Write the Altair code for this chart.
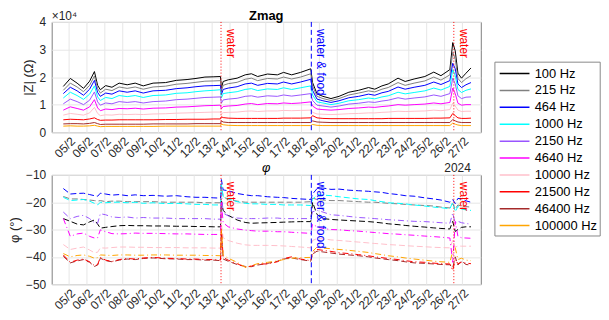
import altair as alt
import pandas as pd

# time of each sample, as fractional day of February 2024
t_day = [4.68, 5.07, 5.45, 5.81, 6.15, 6.42, 6.60, 6.75, 7.05, 7.40,
         7.80, 8.25, 8.70, 9.15, 9.70, 10.40, 11.00, 11.60, 12.10, 12.60,
         13.10, 13.47, 13.52, 13.62, 13.90, 14.40, 14.85, 15.20, 15.55, 16.10,
         16.65, 17.00, 17.45, 17.95, 18.52, 18.62, 18.87, 19.20, 19.65, 20.10,
         20.65, 21.20, 21.75, 22.10, 22.50, 22.85, 23.40, 23.80, 24.30, 24.90,
         25.40, 25.80, 26.30, 26.46, 26.60, 26.75, 26.95, 27.20, 27.48]

freq_labels = ["100 Hz", "215 Hz", "464 Hz", "1000 Hz", "2150 Hz", "4640 Hz",
               "10000 Hz", "21500 Hz", "46400 Hz", "100000 Hz"]
freq_colors = ["#000000", "#808080", "#0000ff", "#00ffff", "#9955ff", "#ff00ff",
               "#ffc0cb", "#ff0000", "#a52a2a", "#ffa500"]
# phase line style of each frequency: dashed or dash-dot
dashdot_freqs = ["2150 Hz", "4640 Hz", "21500 Hz", "100000 Hz"]
dashed_freqs = ["100 Hz", "215 Hz", "464 Hz", "1000 Hz", "10000 Hz", "46400 Hz"]

# |Z| in units of 1e4 ohm
zmag_100 = [1.66, 1.95, 1.78, 1.59, 1.85, 2.20, 1.70, 1.54, 1.69, 1.63,
            1.78, 1.72, 1.78, 1.68, 1.78, 1.80, 1.88, 1.91, 1.95, 2.00,
            2.01, 2.02, 1.60, 1.84, 1.90, 1.96, 2.08, 2.12, 2.02, 2.11,
            2.08, 2.17, 2.08, 2.17, 2.30, 1.80, 1.39, 1.30, 1.22, 1.30,
            1.45, 1.52, 1.62, 1.56, 1.68, 1.75, 1.96, 1.84, 1.93, 2.02,
            2.18, 2.05, 2.27, 3.25, 2.95, 2.14, 1.96, 2.14, 2.33]
zmag_215 = [1.52, 1.78, 1.64, 1.47, 1.70, 2.04, 1.58, 1.42, 1.56, 1.51,
            1.64, 1.59, 1.64, 1.56, 1.64, 1.67, 1.74, 1.77, 1.81, 1.85,
            1.86, 1.87, 1.48, 1.70, 1.76, 1.81, 1.92, 1.96, 1.87, 1.95,
            1.93, 2.00, 1.93, 2.00, 2.12, 1.68, 1.30, 1.22, 1.15, 1.22,
            1.35, 1.42, 1.50, 1.46, 1.56, 1.62, 1.80, 1.70, 1.78, 1.86,
            2.00, 1.89, 2.08, 2.90, 2.65, 1.95, 1.80, 1.94, 2.05]
zmag_464 = [1.40, 1.63, 1.50, 1.34, 1.56, 1.88, 1.44, 1.30, 1.42, 1.38,
            1.50, 1.45, 1.50, 1.42, 1.50, 1.52, 1.58, 1.61, 1.65, 1.68,
            1.69, 1.70, 1.36, 1.55, 1.60, 1.65, 1.75, 1.78, 1.70, 1.77,
            1.75, 1.82, 1.75, 1.82, 1.92, 1.52, 1.20, 1.14, 1.08, 1.14,
            1.25, 1.30, 1.38, 1.34, 1.43, 1.48, 1.64, 1.56, 1.63, 1.70,
            1.82, 1.73, 1.87, 2.50, 2.30, 1.75, 1.62, 1.72, 1.80]
zmag_1000 = [1.24, 1.45, 1.33, 1.19, 1.38, 1.68, 1.28, 1.15, 1.26, 1.22,
             1.33, 1.29, 1.33, 1.26, 1.33, 1.35, 1.41, 1.43, 1.47, 1.50,
             1.52, 1.54, 1.24, 1.40, 1.43, 1.47, 1.55, 1.58, 1.51, 1.57,
             1.55, 1.61, 1.55, 1.61, 1.68, 1.35, 1.10, 1.06, 1.00, 1.05,
             1.14, 1.18, 1.24, 1.21, 1.28, 1.32, 1.45, 1.39, 1.44, 1.50,
             1.60, 1.53, 1.66, 2.27, 2.05, 1.55, 1.44, 1.52, 1.57]
zmag_2150 = [1.03, 1.20, 1.11, 1.00, 1.16, 1.46, 1.10, 0.98, 1.06, 1.03,
             1.11, 1.08, 1.11, 1.06, 1.11, 1.13, 1.18, 1.20, 1.23, 1.26,
             1.27, 1.28, 1.05, 1.17, 1.20, 1.23, 1.30, 1.32, 1.27, 1.32,
             1.30, 1.35, 1.31, 1.35, 1.40, 1.15, 0.98, 0.95, 0.91, 0.95,
             1.02, 1.05, 1.10, 1.08, 1.13, 1.16, 1.25, 1.20, 1.24, 1.28,
             1.35, 1.30, 1.40, 1.96, 1.75, 1.32, 1.22, 1.27, 1.28]
zmag_4640 = [0.80, 0.92, 0.86, 0.80, 0.92, 1.18, 0.88, 0.78, 0.84, 0.82,
             0.86, 0.85, 0.87, 0.84, 0.87, 0.88, 0.91, 0.92, 0.94, 0.96,
             0.97, 0.98, 0.85, 0.93, 0.95, 0.97, 1.02, 1.04, 1.00, 1.04,
             1.03, 1.06, 1.04, 1.06, 1.10, 0.95, 0.84, 0.82, 0.80, 0.82,
             0.86, 0.88, 0.91, 0.90, 0.93, 0.95, 1.00, 0.98, 1.00, 1.02,
             1.06, 1.03, 1.08, 1.60, 1.40, 1.05, 0.98, 1.00, 1.00]
zmag_10000 = [0.62, 0.68, 0.65, 0.62, 0.70, 0.90, 0.68, 0.60, 0.63, 0.62,
              0.65, 0.64, 0.65, 0.64, 0.66, 0.67, 0.69, 0.70, 0.71, 0.72,
              0.73, 0.73, 0.66, 0.71, 0.72, 0.73, 0.76, 0.77, 0.75, 0.77,
              0.77, 0.79, 0.78, 0.79, 0.80, 0.72, 0.66, 0.65, 0.64, 0.65,
              0.67, 0.68, 0.70, 0.70, 0.72, 0.73, 0.76, 0.75, 0.76, 0.77,
              0.80, 0.78, 0.82, 1.06, 0.95, 0.80, 0.75, 0.76, 0.76]
zmag_21500 = [0.45, 0.47, 0.46, 0.45, 0.48, 0.52, 0.46, 0.43, 0.44, 0.44,
              0.45, 0.45, 0.45, 0.45, 0.45, 0.46, 0.46, 0.47, 0.47, 0.47,
              0.48, 0.48, 0.56, 0.53, 0.51, 0.50, 0.50, 0.50, 0.50, 0.50,
              0.50, 0.51, 0.51, 0.51, 0.52, 0.60, 0.52, 0.50, 0.49, 0.49,
              0.49, 0.49, 0.49, 0.49, 0.49, 0.50, 0.50, 0.50, 0.50, 0.50,
              0.51, 0.51, 0.52, 0.68, 0.60, 0.52, 0.50, 0.50, 0.51]
zmag_46400 = [0.30, 0.31, 0.31, 0.30, 0.32, 0.35, 0.31, 0.28, 0.29, 0.29,
              0.29, 0.29, 0.29, 0.29, 0.30, 0.30, 0.30, 0.30, 0.31, 0.31,
              0.31, 0.31, 0.41, 0.37, 0.35, 0.35, 0.35, 0.35, 0.35, 0.35,
              0.35, 0.35, 0.35, 0.35, 0.35, 0.41, 0.37, 0.36, 0.35, 0.35,
              0.35, 0.35, 0.35, 0.35, 0.35, 0.35, 0.35, 0.35, 0.35, 0.35,
              0.35, 0.35, 0.35, 0.46, 0.41, 0.37, 0.35, 0.35, 0.35]
zmag_100000 = [0.22, 0.23, 0.22, 0.22, 0.23, 0.25, 0.22, 0.20, 0.21, 0.21,
               0.21, 0.21, 0.21, 0.21, 0.21, 0.22, 0.22, 0.22, 0.22, 0.22,
               0.22, 0.22, 0.30, 0.27, 0.25, 0.24, 0.24, 0.24, 0.24, 0.24,
               0.24, 0.24, 0.24, 0.24, 0.24, 0.28, 0.25, 0.24, 0.24, 0.24,
               0.24, 0.24, 0.24, 0.24, 0.24, 0.24, 0.24, 0.24, 0.24, 0.24,
               0.24, 0.24, 0.24, 0.33, 0.29, 0.26, 0.24, 0.24, 0.24]

# phase in degrees
phase_100 = [-26.0, -27.0, -28.0, -28.3, -27.2, -26.5, -28.0, -29.5, -29.2, -28.9,
             -28.6, -28.5, -28.6, -28.6, -28.7, -28.7, -28.8, -28.8, -28.9, -28.9,
             -29.0, -29.0, -19.5, -23.0, -24.8, -26.5, -27.4, -27.7, -27.6, -27.5,
             -27.4, -27.3, -27.2, -27.1, -27.1, -20.0, -24.5, -26.0, -26.3, -26.5,
             -26.7, -26.9, -27.1, -27.3, -27.6, -27.9, -28.2, -28.5, -28.8, -29.1,
             -29.4, -29.6, -29.8, -27.0, -30.7, -30.0, -29.2, -29.0, -29.0]
phase_215 = [-17.9, -18.8, -18.8, -19.0, -19.2, -19.4, -19.6, -19.4, -19.8, -19.6,
             -19.6, -19.8, -19.8, -19.8, -19.8, -20.0, -20.0, -20.0, -20.0, -20.2,
             -20.2, -20.2, -14.0, -18.0, -19.0, -19.6, -20.0, -20.0, -20.0, -20.0,
             -20.0, -20.0, -20.0, -20.0, -19.8, -18.5, -19.0, -19.2, -19.4, -19.4,
             -19.6, -19.8, -20.0, -20.0, -20.2, -20.4, -20.6, -20.8, -21.0, -21.2,
             -21.4, -21.8, -22.1, -20.5, -22.5, -21.0, -21.5, -21.6, -21.8]
phase_464 = [-15.0, -17.0, -16.8, -16.7, -17.2, -17.6, -17.8, -16.7, -17.0, -17.4,
             -17.2, -17.6, -17.3, -17.6, -17.5, -17.8, -17.6, -18.0, -18.2, -18.2,
             -18.4, -18.5, -11.7, -15.5, -15.8, -16.8, -17.3, -17.6, -17.6, -18.0,
             -18.2, -18.3, -18.6, -18.8, -19.0, -17.0, -15.0, -14.8, -15.3, -15.2,
             -15.6, -15.8, -16.0, -16.2, -16.4, -16.8, -17.2, -17.6, -17.8, -18.4,
             -18.8, -19.2, -20.0, -19.0, -20.5, -18.6, -18.8, -19.5, -20.0]
phase_1000 = [-18.2, -19.4, -19.2, -19.0, -19.6, -20.4, -21.0, -20.0, -20.2, -20.0,
              -20.0, -20.2, -20.0, -20.4, -20.2, -20.5, -20.4, -20.6, -20.8, -20.8,
              -21.0, -21.0, -13.5, -18.0, -18.8, -19.8, -20.4, -20.6, -20.6, -20.8,
              -20.8, -21.0, -21.0, -21.0, -21.2, -19.0, -17.2, -17.4, -17.6, -18.0,
              -18.4, -18.8, -19.0, -19.4, -19.8, -20.2, -20.4, -20.6, -21.0, -21.4,
              -21.8, -22.0, -22.4, -20.0, -23.5, -21.5, -22.5, -22.8, -23.0]
phase_2150 = [-23.6, -26.0, -25.2, -24.8, -26.0, -27.5, -27.7, -24.2, -24.6, -25.4,
              -25.6, -25.4, -25.8, -25.6, -25.8, -25.8, -26.0, -26.0, -26.0, -26.0,
              -26.2, -26.2, -16.4, -24.0, -25.0, -25.8, -26.0, -26.0, -26.0, -25.8,
              -25.8, -26.0, -26.0, -26.0, -26.0, -23.5, -23.0, -23.6, -24.6, -24.8,
              -25.2, -25.6, -25.8, -26.0, -26.2, -26.4, -26.6, -26.8, -27.0, -27.1,
              -27.3, -27.5, -27.7, -24.0, -27.8, -27.0, -27.5, -27.8, -28.0]
phase_4640 = [-26.0, -32.5, -31.6, -31.3, -32.5, -33.1, -33.0, -30.1, -30.8, -31.5,
              -31.6, -31.5, -31.3, -31.4, -31.4, -31.5, -31.6, -31.6, -31.7, -31.8,
              -31.8, -31.8, -20.0, -27.5, -29.0, -29.8, -30.2, -30.4, -30.6, -30.6,
              -30.8, -30.8, -31.0, -31.2, -31.4, -28.0, -29.0, -29.6, -30.0, -30.1,
              -30.4, -30.6, -30.9, -31.1, -31.3, -31.5, -31.7, -31.9, -32.1, -32.4,
              -32.6, -32.8, -33.1, -42.0, -27.0, -32.5, -33.0, -33.1, -33.2]
phase_10000 = [-35.5, -37.3, -36.8, -36.4, -37.5, -38.5, -38.3, -36.7, -36.8, -36.6,
               -36.4, -36.4, -36.5, -36.5, -36.6, -36.6, -36.6, -36.7, -36.7, -36.7,
               -36.8, -36.8, -28.0, -33.0, -34.0, -35.0, -35.6, -35.8, -35.8, -35.8,
               -35.9, -36.0, -36.2, -36.4, -36.7, -34.0, -33.3, -33.4, -33.8, -34.0,
               -34.3, -34.6, -34.9, -35.1, -35.3, -35.5, -35.7, -35.9, -36.1, -36.3,
               -36.5, -36.6, -36.7, -34.0, -36.5, -36.0, -36.1, -36.1, -36.1]
phase_21500 = [-39.3, -42.0, -41.2, -40.8, -41.8, -43.2, -42.8, -40.2, -41.2, -41.7,
               -41.0, -40.6, -40.8, -40.4, -40.2, -40.5, -40.6, -40.8, -40.8, -41.0,
               -41.0, -41.2, -29.5, -40.2, -41.2, -42.5, -43.8, -43.4, -42.6, -42.6,
               -41.8, -40.6, -40.0, -40.8, -41.4, -38.5, -37.3, -37.6, -38.0, -38.5,
               -38.8, -39.2, -39.6, -40.0, -40.3, -40.6, -41.0, -41.4, -41.8, -42.0,
               -42.3, -42.5, -42.6, -45.0, -41.0, -42.5, -42.0, -42.3, -42.5]
phase_46400 = [-39.8, -42.2, -41.5, -41.0, -42.0, -43.5, -43.0, -40.5, -41.4, -41.8,
               -41.2, -40.8, -41.0, -40.6, -40.4, -40.7, -40.8, -41.0, -41.0, -41.2,
               -41.2, -41.4, -31.0, -40.8, -41.6, -42.8, -43.5, -43.6, -43.0, -42.4,
               -41.6, -40.8, -40.4, -41.0, -41.6, -39.0, -37.9, -38.2, -38.6, -39.0,
               -39.3, -39.6, -40.0, -40.4, -40.7, -41.0, -41.4, -41.8, -42.2, -42.4,
               -42.6, -42.8, -42.9, -44.0, -40.0, -43.0, -41.5, -42.8, -43.0]
phase_100000 = [-38.8, -40.0, -39.5, -39.3, -39.8, -40.5, -40.3, -39.3, -39.4, -39.5,
                -39.3, -39.3, -39.4, -39.4, -39.3, -39.3, -39.4, -39.4, -39.4, -39.5,
                -39.5, -39.6, -30.0, -39.3, -40.5, -42.0, -43.8, -43.2, -42.5, -42.0,
                -41.5, -41.0, -40.5, -40.3, -40.2, -38.0, -36.4, -36.8, -37.0, -37.3,
                -37.6, -38.0, -38.4, -38.8, -39.2, -39.6, -40.0, -40.4, -40.8, -41.2,
                -41.6, -41.8, -42.0, -38.0, -36.7, -41.0, -40.5, -41.2, -41.4]

zmag_series = [zmag_100, zmag_215, zmag_464, zmag_1000, zmag_2150, zmag_4640,
               zmag_10000, zmag_21500, zmag_46400, zmag_100000]
phase_series = [phase_100, phase_215, phase_464, phase_1000, phase_2150, phase_4640,
                phase_10000, phase_21500, phase_46400, phase_100000]

tick_days = list(range(5, 28))
x_domain = [4.03, 28.03]
zmag_ticks = [0, 1, 2, 3, 4]
phase_ticks = [-50, -40, -30, -20, -10]

event_days = [13.5, 18.55, 26.52]
event_text = ["water", "water & food", "water"]
event_kind = ["red", "blue", "red"]

year_label = "2024"
year_day = 26.73

for s in zmag_series + phase_series:
    assert len(s) == len(t_day), len(s)

zrows, prows = [], []
for lab, zs, ps in zip(freq_labels, zmag_series, phase_series):
    for t, z, p in zip(t_day, zs, ps):
        zrows.append({"t": t, "freq": lab, "v": z})
        prows.append({"t": t, "freq": lab, "v": p})
zdf = pd.DataFrame(zrows)
pdf = pd.DataFrame(prows)
edf = pd.DataFrame({"t": event_days, "label": event_text, "kind": event_kind})

FONT = "Liberation Sans"
W, H1, H2 = 432, 111, 110

xscale = alt.Scale(domain=x_domain, nice=False, zero=False)
xaxis = alt.Axis(values=tick_days, title=None, labelAngle=315, labelOverlap=False,
                 labelAlign="right", labelBaseline="top", labelPadding=3,
                 labelExpr="(datum.value < 10 ? '0' : '') + datum.value + '/2'")
xenc = alt.X("t:Q", scale=xscale, axis=xaxis)

color = alt.Color("freq:N", scale=alt.Scale(domain=freq_labels, range=freq_colors),
                  legend=alt.Legend(title=None, orient="none", legendX=445.7, legendY=40,
                                    symbolType="M-0.8,0H2.78", symbolSize=281,
                                    symbolStrokeWidth=1.5, symbolDash=[1, 0],
                                    labelFontSize=13, labelFont=FONT,
                                    labelColor="#000000", labelOffset=19, rowPadding=0,
                                    padding=2.5, strokeColor="#888888", fillColor="#ffffff",
                                    labelLimit=300))


def events_layers():
    red_rule = alt.Chart(edf).transform_filter("datum.kind == 'red'").mark_rule(
        color="#ff0000", strokeDash=[1, 2], strokeWidth=1).encode(x=xenc)
    blue_rule = alt.Chart(edf).transform_filter("datum.kind == 'blue'").mark_rule(
        color="#0000ff", strokeDash=[5, 3], strokeWidth=1).encode(x=xenc)
    red_txt = alt.Chart(edf).transform_filter("datum.kind == 'red'").mark_text(
        angle=90, align="left", baseline="bottom", dy=-3, fontSize=12, font=FONT,
        color="#ff0000").encode(x=xenc, y=alt.value(7), text="label:N")
    blue_txt = alt.Chart(edf).transform_filter("datum.kind == 'blue'").mark_text(
        angle=90, align="left", baseline="bottom", dy=-3, fontSize=12, font=FONT,
        color="#0000ff").encode(x=xenc, y=alt.value(7), text="label:N")
    return [red_rule, blue_rule, red_txt, blue_txt]


def label_text(s, xpos, ypos, **kw):
    return alt.Chart(pd.DataFrame({"s": [s]})).mark_text(font=FONT, **kw).encode(
        x=alt.value(xpos), y=alt.value(ypos), text="s:N")


top_lines = alt.Chart(zdf).mark_line(strokeWidth=1).encode(
    x=xenc,
    y=alt.Y("v:Q", scale=alt.Scale(domain=[0, 4], nice=False),
            axis=alt.Axis(values=zmag_ticks, title="|Z| (Ω)", labelPadding=6, labelOverlap=False,
                          titleX=-23, titleY=H1 / 2, titleAngle=270, titleAlign="center",
                          titleBaseline="middle")),
    color=color, detail="freq:N", order="t:Q")

exp_txt = label_text("×10⁴", 0, -1.5, align="left", baseline="alphabetic", fontSize=12,
                     color="#262626")
zmag_title = label_text("Zmag", W / 2, -2, align="center", baseline="alphabetic",
                        fontSize=13, fontWeight="bold", color="#000000")

top = alt.layer(top_lines, *events_layers(), exp_txt, zmag_title).properties(
    width=W, height=H1)

phase_y = alt.Y("v:Q", scale=alt.Scale(domain=[-50, -10], nice=False),
                axis=alt.Axis(values=phase_ticks, title="φ (°)", labelPadding=6,
                              labelOverlap=False, titleX=-37, titleY=H2 / 2, titleAngle=270,
                              titleAlign="center", titleBaseline="middle"))

bot_dashed = alt.Chart(pdf).transform_filter(
    alt.FieldOneOfPredicate(field="freq", oneOf=dashed_freqs)
).mark_line(strokeWidth=1, strokeDash=[6, 3]).encode(
    x=xenc, y=phase_y, color=color, detail="freq:N", order="t:Q")
bot_dashdot = alt.Chart(pdf).transform_filter(
    alt.FieldOneOfPredicate(field="freq", oneOf=dashdot_freqs)
).mark_line(strokeWidth=1, strokeDash=[6, 3, 1, 3]).encode(
    x=xenc, y=phase_y, color=color, detail="freq:N", order="t:Q")

year_txt = alt.Chart(pd.DataFrame({"t": [year_day], "v": [-10], "s": [year_label]})).mark_text(
    align="center", baseline="bottom", fontSize=12, font=FONT, color="#262626").encode(
    x=xenc, y=phase_y, text="s:N")

phi_title = label_text("φ", W / 2, -7, align="center", baseline="middle", fontSize=13,
                       fontStyle="italic", color="#000000")

bot = alt.layer(bot_dashed, bot_dashdot, *events_layers(), year_txt, phi_title).properties(
    width=W, height=H2)

chart = alt.vconcat(top, bot, spacing=43, bounds="flush").properties(
    padding={"left": 0, "top": 0, "right": 0, "bottom": 0}
).configure_view(stroke="#808080", strokeWidth=1).configure_axis(
    grid=True, gridColor="#e6e6e6", domain=False, ticks=False, labelOverlap=False,
    labelFont=FONT, labelFontSize=12, labelColor="#262626",
    titleFont=FONT, titleFontSize=13, titleFontWeight="normal", titleColor="#262626"
)

chart.save("out.html", embed_options={"renderer": "svg", "actions": False})
